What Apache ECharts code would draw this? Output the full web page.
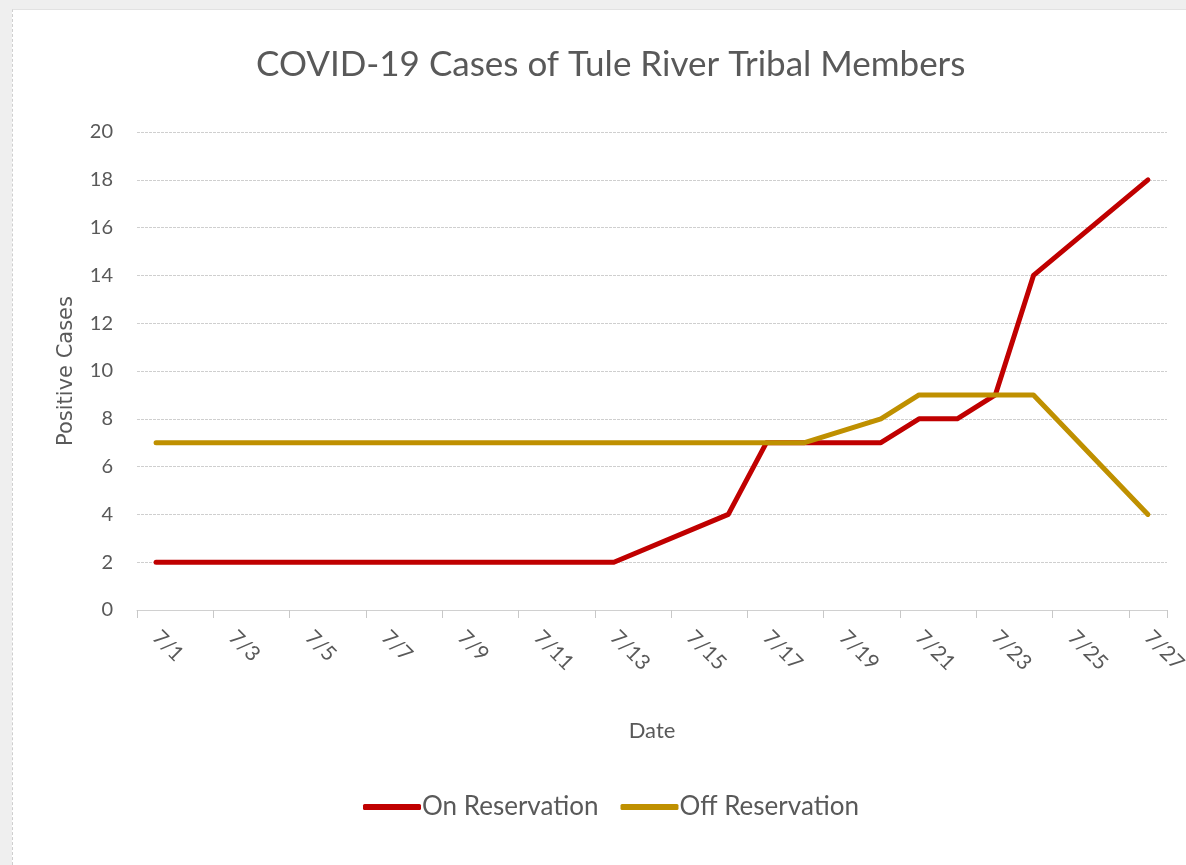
<!DOCTYPE html>
<html>
<head>
<meta charset="utf-8">
<script src="https://cdn.jsdelivr.net/npm/echarts@6/dist/echarts.min.js"></script>
<style>
    html, body {
        margin: 0;
        padding: 0;
        width: 1186px;
        height: 865px;
        background: #efefef;
        overflow: hidden;
    }
    .card {
        position: absolute;
        left: 12px;
        top: 9px;
        width: 1174px;
        height: 856px;
        background: #ffffff;
        border-left: 1px dashed #cfcfcf;
        border-top: 1px solid #e2e2e2;
        box-sizing: border-box;
    }
    #chart {
        width: 100%;
        height: 100%;
    }
</style>
</head>
<body>
<div class="card">
    <div id="chart"></div>
</div>
<script>
// categories (daily, July)
var dates = ["7/1", "7/2", "7/3", "7/4", "7/5", "7/6", "7/7", "7/8", "7/9", "7/10",
    "7/11", "7/12", "7/13", "7/14", "7/15", "7/16", "7/17", "7/18", "7/19", "7/20",
    "7/21", "7/22", "7/23", "7/24", "7/25", "7/26", "7/27"];

// null = no report that day (line is drawn straight across)
var onReservation = [2, 2, 2, 2, 2, 2, 2, 2, 2, 2,
    2, 2, 2, null, null, 4, 7, 7, 7, 7,
    8, 8, 9, 14, null, null, 18];
var offReservation = [7, 7, 7, 7, 7, 7, 7, 7, 7, 7,
    7, 7, 7, 7, 7, 7, 7, 7, null, 8,
    9, 9, 9, 9, null, null, 4];

var textColor = "#595959";
var fontName = "Lato, 'Open Sans', sans-serif";

var myChart = echarts.init(document.getElementById("chart"));

var option = {
    animation: false,
    title: {
        text: "COVID-19 Cases of Tule River Tribal Members",
        left: 243,
        top: 37,
        padding: 0,
        textStyle: {
            fontFamily: fontName,
            fontWeight: "normal",
            fontSize: 35,
            color: textColor,
        },
    },
    grid: {
        left: 124,
        right: 19,
        top: 122,
        bottom: 255,
        outerBoundsMode: "none",
        containLabel: false,
    },
    legend: {
        bottom: 45,
        left: 350,
        padding: 0,
        icon: "roundRect",
        itemWidth: 58,
        itemHeight: 6,
        itemGap: 22,
        textStyle: {
            fontFamily: fontName,
            fontSize: 26,
            color: textColor,
            padding: [0, 0, 0, -4],
        },
        data: ["On Reservation", "Off Reservation"],
    },
    xAxis: {
        type: "category",
        data: dates,
        boundaryGap: true,
        name: "Date",
        nameLocation: "middle",
        nameGap: 110,
        nameTextStyle: {
            fontFamily: fontName,
            fontSize: 22,
            color: textColor,
        },
        axisLine: {
            lineStyle: { color: "#d0d0d0", width: 1 },
        },
        axisTick: {
            show: true,
            interval: 1,
            length: 8,
            lineStyle: { color: "#c8c8c8" },
        },
        axisLabel: {
            interval: 1,
            rotate: -45,
            margin: 24,
            fontFamily: fontName,
            fontSize: 21,
            color: textColor,
        },
    },
    yAxis: {
        type: "value",
        min: 0,
        max: 20,
        interval: 2,
        name: "Positive Cases",
        nameLocation: "middle",
        nameGap: 60,
        nameTextStyle: {
            fontFamily: "'DejaVu Sans', sans-serif",
            fontSize: 21,
            color: textColor,
        },
        axisLine: { show: false },
        axisTick: { show: false },
        axisLabel: {
            margin: 24,
            fontFamily: fontName,
            fontSize: 20,
            color: textColor,
        },
        splitLine: {
            lineStyle: {
                color: "#cfcfcf",
                type: [3, 1],
                width: 1,
            },
        },
    },
    series: [
        {
            name: "On Reservation",
            type: "line",
            data: onReservation,
            connectNulls: true,
            symbol: "none",
            z: 2,
            lineStyle: { color: "#C00000", width: 5, cap: "round", join: "round" },
            itemStyle: { color: "#C00000" },
        },
        {
            name: "Off Reservation",
            type: "line",
            data: offReservation,
            connectNulls: true,
            symbol: "none",
            z: 3,
            lineStyle: { color: "#BF9000", width: 5, cap: "round", join: "round" },
            itemStyle: { color: "#BF9000" },
        },
    ],
};

myChart.setOption(option);
</script>
</body>
</html>
